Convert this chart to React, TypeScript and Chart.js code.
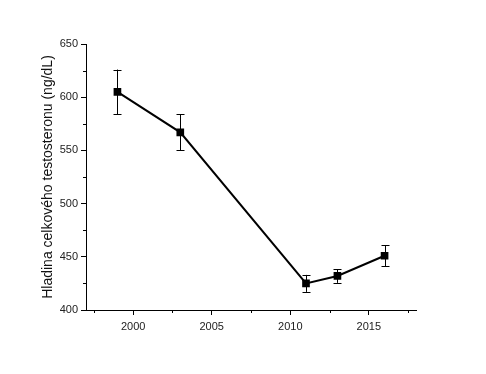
import React, { useEffect, useRef } from "react";
import { Chart, registerables } from "chart.js";

Chart.register(...registerables);

const years = [1999, 2003, 2011, 2013, 2016];
const means = [605, 567, 425, 432, 451];
const errors = [21, 17, 8, 6.5, 10];
const xTicks = [2000, 2005, 2010, 2015];
const xMinorTicks = [1997.5, 2002.5, 2007.5, 2012.5, 2017.5];
const yTicks = [400, 450, 500, 550, 600, 650];
const yMinorTicks = [425, 475, 525, 575, 625];
const yTitle = "Hladina celkového testosteronu (ng/dL)";

const errorBarPlugin = {
  id: "errorBars",
  afterDatasetsDraw(chart: any) {
    const ctx = chart.ctx;
    const xs = chart.scales.x;
    const ys = chart.scales.y;
    ctx.save();
    ctx.strokeStyle = "#000";
    ctx.lineWidth = 1;
    years.forEach((yr, i) => {
      const px = Math.round(xs.getPixelForValue(yr)) + 0.5;
      const top = ys.getPixelForValue(means[i] + errors[i]);
      const bot = ys.getPixelForValue(means[i] - errors[i]);
      ctx.beginPath();
      ctx.moveTo(px, top);
      ctx.lineTo(px, bot);
      ctx.moveTo(px - 4, Math.round(top) + 0.5);
      ctx.lineTo(px + 4, Math.round(top) + 0.5);
      ctx.moveTo(px - 4, Math.round(bot) + 0.5);
      ctx.lineTo(px + 4, Math.round(bot) + 0.5);
      ctx.stroke();
    });
    const area = chart.chartArea;
    ctx.beginPath();
    xMinorTicks.forEach((v) => {
      const px = Math.round(xs.getPixelForValue(v)) + 0.5;
      ctx.moveTo(px, area.bottom);
      ctx.lineTo(px, area.bottom + 3);
    });
    yMinorTicks.forEach((v) => {
      const py = Math.round(ys.getPixelForValue(v)) + 0.5;
      ctx.moveTo(area.left, py);
      ctx.lineTo(area.left - 3, py);
    });
    ctx.stroke();
    ctx.restore();
  },
};

export default function App() {
  const ref = useRef<HTMLCanvasElement>(null);
  useEffect(() => {
    document.body.style.margin = "0";
    const chart = new Chart(ref.current!, {
      type: "line",
      data: {
        datasets: [
          {
            data: years.map((y, i) => ({ x: y, y: means[i] })),
            borderColor: "#000",
            backgroundColor: "#000",
            borderWidth: 2,
            pointStyle: "rect",
            pointRadius: 4,
            pointHoverRadius: 4,
            tension: 0,
          },
        ],
      },
      options: {
        animation: false,
        responsive: false,
        maintainAspectRatio: false,
        layout: { padding: { left: 0, top: 44, right: 70, bottom: 0 } },
        plugins: { legend: { display: false }, tooltip: { enabled: false } },
        scales: {
          x: {
            type: "linear",
            min: 1997,
            max: 2018,
            afterBuildTicks: (s: any) => {
              s.ticks = xTicks.map((v) => ({ value: v }));
            },
            afterFit: (s: any) => {
              s.height = 64;
            },
            border: { color: "#000", width: 1 },
            grid: { drawOnChartArea: false, color: "#000", tickLength: 5 },
            ticks: {
              color: "#222",
              font: { family: "Arial, 'Liberation Sans'", size: 11 },
              padding: 5,
              maxRotation: 0,
              callback: (v: any) => String(v),
            },
          },
          y: {
            type: "linear",
            min: 400,
            max: 650,
            afterBuildTicks: (s: any) => {
              s.ticks = yTicks.map((v) => ({ value: v }));
            },
            afterFit: (s: any) => {
              s.width = 86;
            },
            border: { color: "#000", width: 1 },
            grid: { drawOnChartArea: false, color: "#000", tickLength: 5 },
            ticks: {
              color: "#222",
              font: { family: "Arial, 'Liberation Sans'", size: 11 },
              padding: 3,
            },
            title: {
              display: true,
              text: yTitle,
              color: "#111",
              font: { family: "Arial, 'Liberation Sans'", size: 14 },
              padding: { top: 40, bottom: 4 },
            },
          },
        },
      },
      plugins: [errorBarPlugin],
    });
    return () => chart.destroy();
  }, []);
  return <canvas ref={ref} width={486} height={374} style={{ display: "block" }} />;
}
